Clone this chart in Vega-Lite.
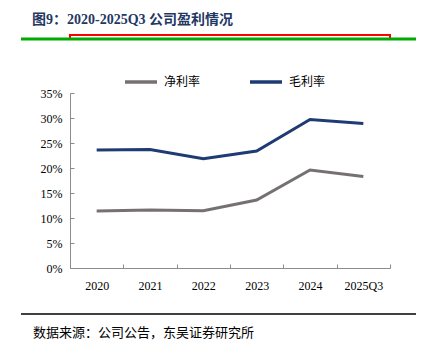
{
  "$schema": "https://vega.github.io/schema/vega-lite/v6.json",
  "background": "white",
  "padding": {"left": 18, "top": 12, "right": 15, "bottom": 0},
  "spacing": 22,
  "resolve": {"legend": {"color": "independent"}},
  "config": {"view": {"stroke": null}, "font": "Liberation Serif, Noto Sans CJK SC"},
  "vconcat": [
    {
      "title": {"text": "图9：2020-2025Q3 公司盈利情况", "anchor": "start", "frame": "group", "font": "Liberation Serif, Noto Sans CJK SC", "fontSize": 14, "fontWeight": "bold", "color": "#1f3864", "offset": 8, "dx": -38},
      "width": 320,
      "height": 4,
      "view": {"stroke": "red", "strokeWidth": 2},
      "data": {"values": [{"from": -0.153125, "to": 1.08125, "level": 0}]},
      "mark": {"type": "rule", "color": "#00aa00", "strokeWidth": 3},
      "encoding": {
        "x": {"field": "from", "type": "quantitative", "scale": {"domain": [0, 1], "nice": false}, "axis": null},
        "x2": {"field": "to"},
        "y": {"field": "level", "type": "quantitative", "scale": {"domain": [0, 1], "nice": false}, "axis": null}
      }
    },
    {
      "width": 320,
      "height": 175,
      "data": {"values": [
        {"year": "2020", "series": "净利率", "value": 11.4},
        {"year": "2021", "series": "净利率", "value": 11.6},
        {"year": "2022", "series": "净利率", "value": 11.45},
        {"year": "2023", "series": "净利率", "value": 13.6},
        {"year": "2024", "series": "净利率", "value": 19.6},
        {"year": "2025Q3", "series": "净利率", "value": 18.3},
        {"year": "2020", "series": "毛利率", "value": 23.6},
        {"year": "2021", "series": "毛利率", "value": 23.7},
        {"year": "2022", "series": "毛利率", "value": 21.85},
        {"year": "2023", "series": "毛利率", "value": 23.4},
        {"year": "2024", "series": "毛利率", "value": 29.7},
        {"year": "2025Q3", "series": "毛利率", "value": 28.9}
      ]},
      "mark": {"type": "line", "strokeWidth": 3},
      "encoding": {
        "x": {
          "field": "year", "type": "ordinal", "sort": null, "bandPosition": 0.5,
          "scale": {"type": "band", "paddingInner": 0, "paddingOuter": 0},
          "axis": {"title": null, "labelAngle": 0, "tickBand": "extent", "domainColor": "#8c8c8c", "tickColor": "#8c8c8c", "tickSize": -4, "labelPadding": 16, "labelFont": "Liberation Serif", "labelFontSize": 12, "labelColor": "#000000", "grid": false}
        },
        "y": {
          "field": "value", "type": "quantitative",
          "scale": {"domain": [0, 35]},
          "axis": {"title": null, "values": [0, 5, 10, 15, 20, 25, 30, 35], "labelExpr": "datum.value + '%'", "domainColor": "#8c8c8c", "tickColor": "#8c8c8c", "tickSize": -4, "labelPadding": 12, "labelFont": "Liberation Serif", "labelFontSize": 12, "labelColor": "#000000", "grid": false}
        },
        "color": {
          "field": "series", "type": "nominal",
          "scale": {"domain": ["净利率", "毛利率"], "range": ["#767171", "#1f3b73"]},
          "legend": {"title": " ", "titleOrient": "left", "titleFont": "Liberation Serif", "titleFontSize": 10, "titlePadding": 53, "orient": "top", "offset": 4, "direction": "horizontal", "symbolType": "stroke", "symbolSize": 1024, "symbolStrokeWidth": 3.5, "labelFont": "Noto Sans CJK SC", "labelFontSize": 12, "labelColor": "#000000", "columnPadding": 42, "labelOffset": 5}
        }
      }
    },
    {
      "title": {"text": "数据来源：公司公告，东吴证券研究所", "orient": "bottom", "anchor": "start", "frame": "group", "font": "Noto Sans CJK SC", "fontSize": 13, "fontWeight": "normal", "color": "#000000", "offset": 12, "dx": -37},
      "width": 320,
      "height": 1,
      "data": {"values": [{"from": -0.153125, "to": 1.08125, "level": 1}]},
      "mark": {"type": "rule", "color": "#000000", "strokeWidth": 1.5},
      "encoding": {
        "x": {"field": "from", "type": "quantitative", "scale": {"domain": [0, 1], "nice": false}, "axis": null},
        "x2": {"field": "to"},
        "y": {"field": "level", "type": "quantitative", "scale": {"domain": [0, 1], "nice": false}, "axis": null}
      }
    }
  ]
}
